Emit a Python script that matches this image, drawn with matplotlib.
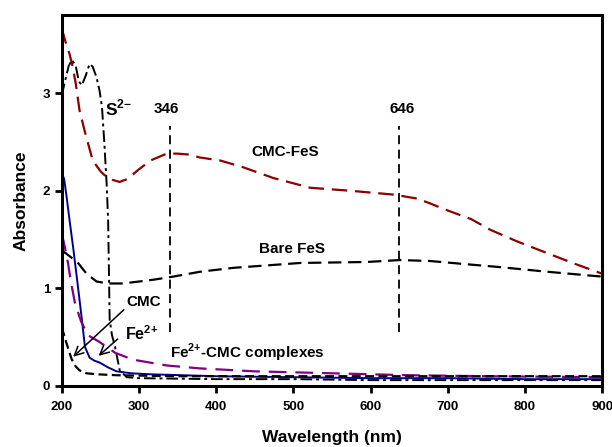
import matplotlib.pyplot as plt

plt.rcParams['font.family'] = ['Liberation Sans', 'DejaVu Sans']
plt.rcParams['font.weight'] = 'bold'
plt.rcParams['mathtext.fontset'] = 'custom'
plt.rcParams['mathtext.rm'] = 'Liberation Sans:bold'
plt.rcParams['mathtext.bf'] = 'Liberation Sans:bold'

# CMC-FeS
x_cmcfes = [200, 205, 210, 214, 218, 223, 230, 240, 250, 258, 266, 275, 285, 300, 315, 336, 350,
            365, 379, 405, 435, 474, 522, 573, 630, 660, 677, 699, 730, 755, 790, 829, 865, 900]
y_cmcfes = [3.66, 3.52, 3.40, 3.27, 3.10, 2.82, 2.60, 2.31, 2.20, 2.14, 2.11, 2.09, 2.12, 2.22, 2.31,
            2.38, 2.38, 2.37, 2.34, 2.31, 2.24, 2.13, 2.03, 2.00, 1.96, 1.92, 1.87, 1.80, 1.71, 1.60,
            1.48, 1.36, 1.25, 1.15]

# bare FeS
x_bare = [200, 210, 221, 232, 245, 260, 279, 300, 320, 344, 379, 422, 509, 595, 638, 677, 720,
          764, 829, 900]
y_bare = [1.39, 1.33, 1.26, 1.15, 1.07, 1.05, 1.05, 1.07, 1.09, 1.12, 1.17, 1.21, 1.26, 1.27,
          1.29, 1.28, 1.25, 1.22, 1.17, 1.12]

# S2-
x_s2 = [200, 205, 209, 213, 218, 222, 226, 231, 236, 240, 245, 249, 252, 255, 258, 260, 262,
        265, 269, 275, 284, 300, 400, 500, 600, 700, 800, 900]
y_s2 = [2.98, 3.15, 3.28, 3.34, 3.28, 3.12, 3.08, 3.18, 3.30, 3.27, 3.16, 3.02, 2.86, 2.50,
        2.08, 1.70, 0.68, 0.52, 0.40, 0.16, 0.09, 0.08, 0.07, 0.07, 0.06, 0.06, 0.06, 0.06]

# CMC
x_cmc = [200, 203, 206, 210, 215, 221, 226, 230, 236, 242, 249, 260, 271, 290, 314, 400, 500,
         600, 700, 800, 900]
y_cmc = [2.18, 2.12, 1.95, 1.70, 1.40, 1.01, 0.68, 0.40, 0.29, 0.26, 0.24, 0.19, 0.15, 0.13,
         0.12, 0.10, 0.09, 0.08, 0.08, 0.07, 0.07]

# Fe2+-CMC complexes
x_fecmc = [200, 204, 208, 212, 217, 225, 234, 249, 269, 292, 336, 379, 450, 550, 650, 750, 900]
y_fecmc = [1.56, 1.42, 1.26, 1.06, 0.85, 0.66, 0.52, 0.45, 0.34, 0.27, 0.21, 0.18, 0.15, 0.13,
           0.11, 0.10, 0.09]

# Fe2+
x_fe = [200, 203, 206, 210, 213, 218, 223, 232, 245, 271, 350, 500, 700, 900]
y_fe = [0.60, 0.52, 0.44, 0.34, 0.27, 0.20, 0.16, 0.13, 0.12, 0.11, 0.10, 0.10, 0.10, 0.10]

peaks = [340, 637]
peak_labels = ['346', '646']
peak_text_x = [336, 641]

fig = plt.figure(figsize=(6.12, 4.47), dpi=100)
ax = fig.add_axes([0.101, 0.1365, 0.883, 0.83])

ax.plot(x_cmcfes, y_cmcfes, color='#8b0000', lw=1.6, dashes=(7, 3.5))
ax.plot(x_bare, y_bare, color='black', lw=1.6, dashes=(6, 3))
ax.plot(x_s2, y_s2, color='black', lw=1.4, dashes=(6, 2, 1.5, 2))
ax.plot(x_cmc, y_cmc, color='#00008b', lw=1.4)
ax.plot(x_fecmc, y_fecmc, color='#800080', lw=1.6, dashes=(8, 4))
ax.plot(x_fe, y_fe, color='black', lw=1.6, dashes=(4, 2))

for p, lab, tx in zip(peaks, peak_labels, peak_text_x):
    ax.plot([p, p], [0.55, 2.66], color='black', lw=1.3, dashes=(5, 3))
    ax.text(tx, 2.80, lab, ha='center', va='baseline', fontsize=11, fontweight='bold')

ax.text(256, 2.77, r'S$^{\mathbf{2{-}}}$', ha='left', va='baseline', fontsize=12.5)
ax.text(489, 2.36, 'CMC-FeS', ha='center', va='baseline', fontsize=11, fontweight='bold')
ax.text(498, 1.36, 'Bare FeS', ha='center', va='baseline', fontsize=11, fontweight='bold')
ax.text(284, 0.82, 'CMC', ha='left', va='baseline', fontsize=11, fontweight='bold')
ax.text(282, 0.47, r'Fe$^{\mathbf{2{+}}}$', ha='left', va='baseline', fontsize=11.5)
ax.text(340, 0.29, r'Fe$^{\mathbf{2{+}}}$-CMC complexes', ha='left', va='baseline', fontsize=11)

ax.annotate('', xy=(212, 0.28), xytext=(283, 0.80),
            arrowprops=dict(arrowstyle='->', color='black', lw=1.1, mutation_scale=16))
ax.annotate('', xy=(245, 0.29), xytext=(275, 0.50),
            arrowprops=dict(arrowstyle='->', color='black', lw=1.1, mutation_scale=16))

ax.set_xlim(200, 900)
ax.set_ylim(0, 3.8)
ax.set_xticks(range(200, 901, 100))
ax.set_yticks([0, 1, 2, 3])
ax.tick_params(direction='out', length=5, width=2, labelsize=9.5)
ax.tick_params(axis='x', pad=6)
for lab in ax.get_xticklabels() + ax.get_yticklabels():
    lab.set_fontweight('bold')
for s in ax.spines.values():
    s.set_linewidth(2.2)

ax.set_xlabel('Wavelength (nm)', fontsize=12.5, fontweight='bold', labelpad=12)
ax.set_ylabel('Absorbance', fontsize=12.5, fontweight='bold', labelpad=10)

fig.savefig('out.png', dpi=100)
